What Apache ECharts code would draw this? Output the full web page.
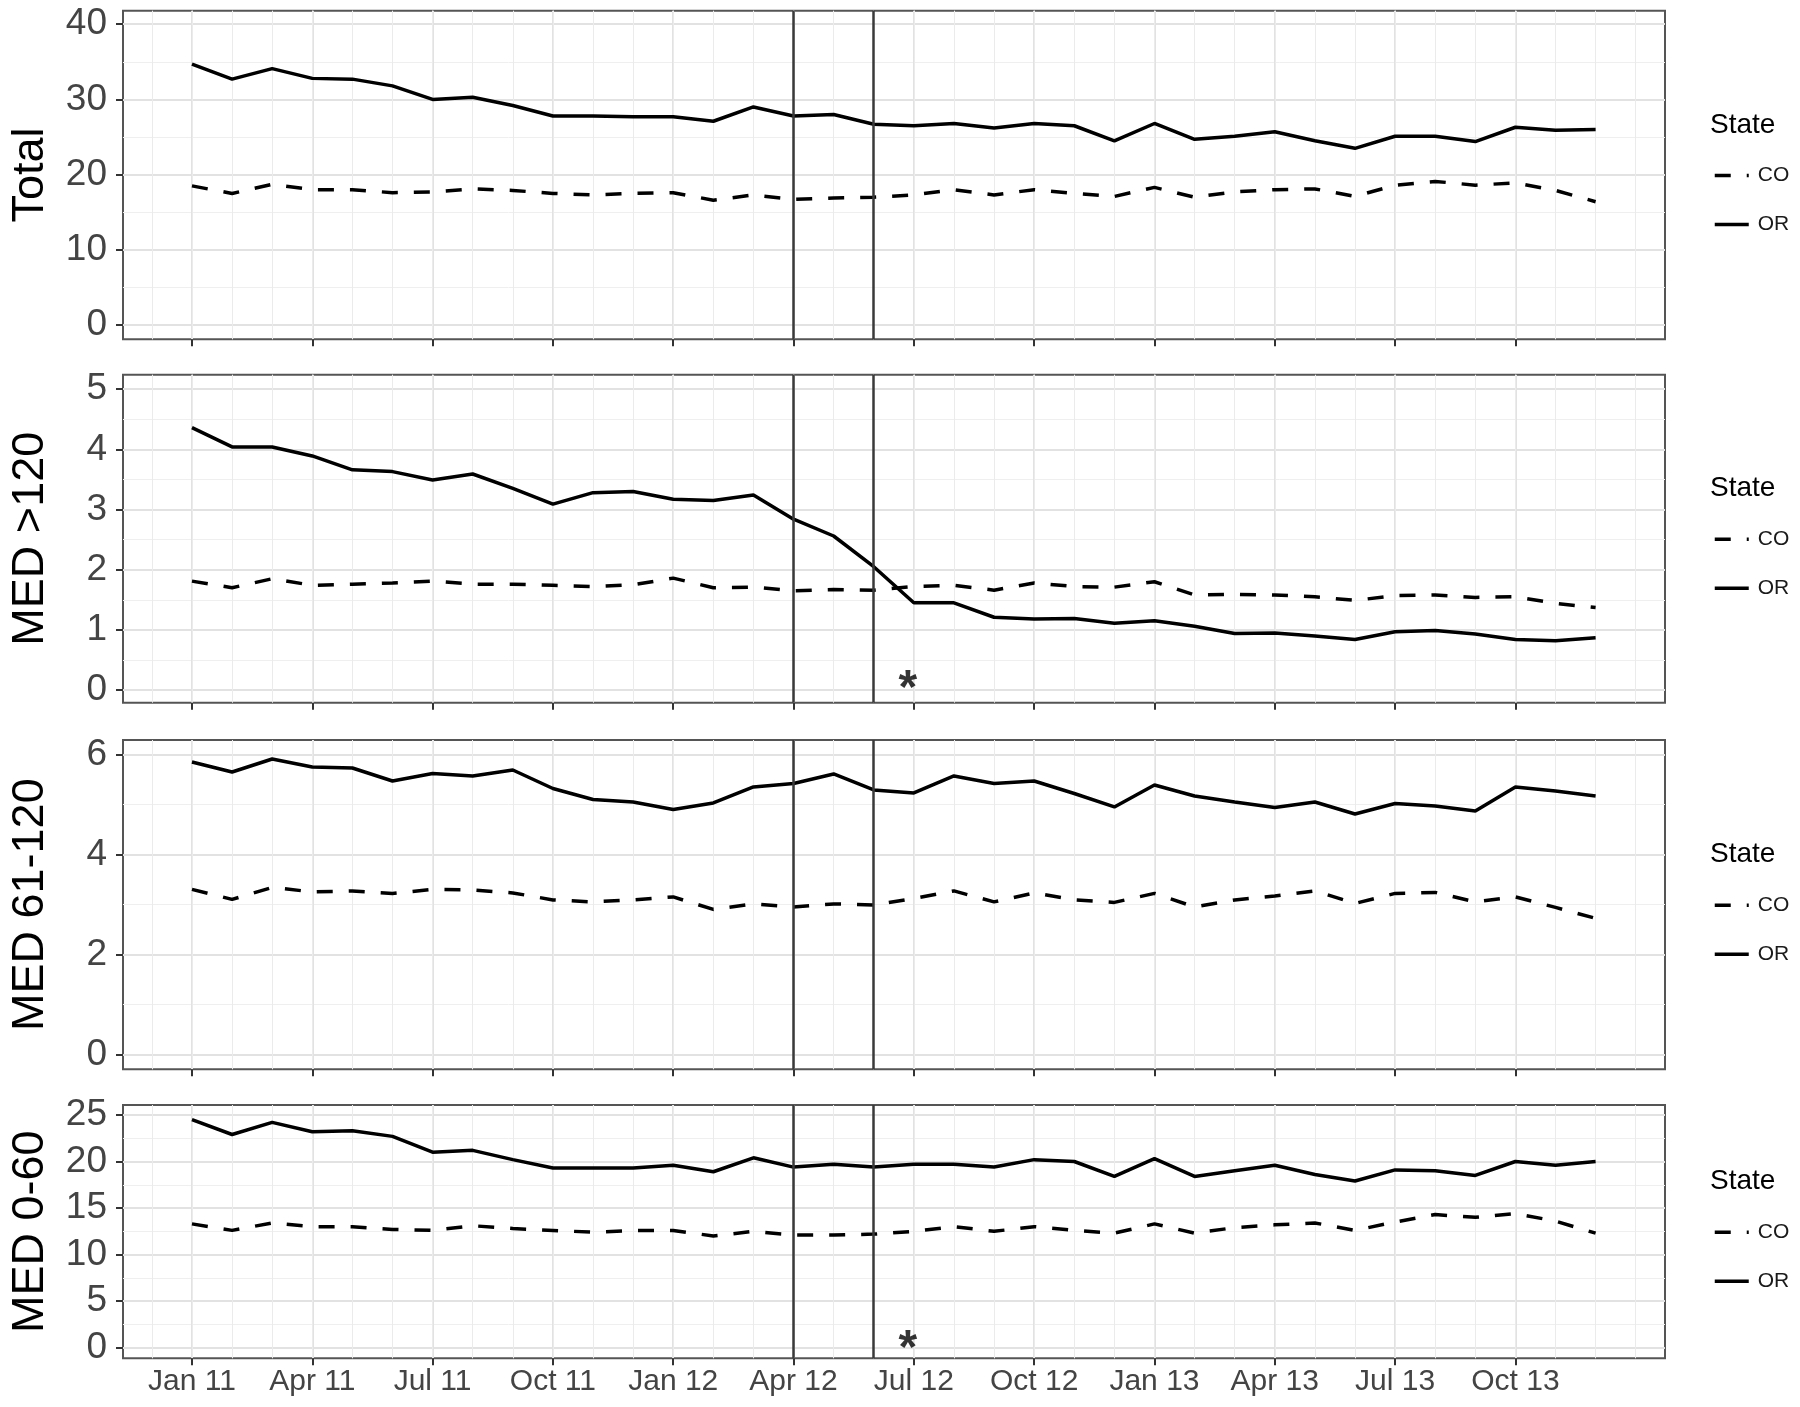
<!DOCTYPE html>
<html>
<head>
<meta charset="utf-8">
<title>MED prescribing, CO vs OR</title>
<script src="https://cdn.jsdelivr.net/npm/echarts@6.0.0/dist/echarts.min.js"></script>
<style>
    html, body { margin: 0; padding: 0; background: #fff; }
    #chart { width: 1800px; height: 1407px; }
</style>
</head>
<body>
<div id="chart"></div>
<script>
// monthly points, Jan 2011 .. Dec 2013 (x = month index 0..35)
const months = [
    'Jan 11', 'Feb 11', 'Mar 11', 'Apr 11', 'May 11', 'Jun 11', 'Jul 11', 'Aug 11', 'Sep 11', 'Oct 11', 'Nov 11', 'Dec 11',
    'Jan 12', 'Feb 12', 'Mar 12', 'Apr 12', 'May 12', 'Jun 12', 'Jul 12', 'Aug 12', 'Sep 12', 'Oct 12', 'Nov 12', 'Dec 12',
    'Jan 13', 'Feb 13', 'Mar 13', 'Apr 13', 'May 13', 'Jun 13', 'Jul 13', 'Aug 13', 'Sep 13', 'Oct 13', 'Nov 13', 'Dec 13'
]
const tickMonths = [0, 3, 6, 9, 12, 15, 18, 21, 24, 27, 30, 33]
const tickLabels = ['Jan 11', 'Apr 11', 'Jul 11', 'Oct 11', 'Jan 12', 'Apr 12', 'Jul 12', 'Oct 12', 'Jan 13', 'Apr 13', 'Jul 13', 'Oct 13']

// vertical reference lines (Apr 12, Jun 12)
const policyMonths = [15, 17]

const totalCO = [18.5, 17.5, 18.7, 18.0, 18.0, 17.6, 17.7, 18.1, 17.9, 17.5, 17.3, 17.5, 17.6, 16.6, 17.3, 16.7, 16.9, 17.0, 17.3, 18.0, 17.3, 18.0, 17.5, 17.1, 18.3, 17.0, 17.7, 18.0, 18.1, 17.1, 18.6, 19.1, 18.6, 18.9, 17.9, 16.4]
const totalOR = [34.7, 32.7, 34.1, 32.8, 32.7, 31.8, 30.0, 30.3, 29.2, 27.8, 27.8, 27.7, 27.7, 27.1, 29.0, 27.8, 28.0, 26.7, 26.5, 26.8, 26.2, 26.8, 26.5, 24.5, 26.8, 24.7, 25.1, 25.7, 24.5, 23.5, 25.1, 25.1, 24.4, 26.3, 25.9, 26.0]

const med120CO = [1.81, 1.70, 1.85, 1.74, 1.76, 1.78, 1.81, 1.76, 1.76, 1.74, 1.72, 1.75, 1.86, 1.70, 1.71, 1.65, 1.67, 1.66, 1.72, 1.74, 1.66, 1.78, 1.72, 1.71, 1.80, 1.58, 1.59, 1.58, 1.55, 1.49, 1.57, 1.58, 1.54, 1.55, 1.44, 1.37]
const med120OR = [4.36, 4.04, 4.04, 3.89, 3.66, 3.63, 3.49, 3.59, 3.35, 3.09, 3.28, 3.30, 3.17, 3.15, 3.24, 2.84, 2.56, 2.05, 1.45, 1.45, 1.21, 1.18, 1.19, 1.11, 1.15, 1.06, 0.94, 0.95, 0.90, 0.84, 0.97, 0.99, 0.93, 0.84, 0.82, 0.87]

const med61CO = [3.30, 3.10, 3.34, 3.25, 3.27, 3.22, 3.30, 3.29, 3.23, 3.09, 3.05, 3.09, 3.15, 2.90, 3.01, 2.95, 3.01, 2.99, 3.12, 3.27, 3.05, 3.23, 3.09, 3.04, 3.22, 2.95, 3.09, 3.17, 3.27, 3.02, 3.22, 3.24, 3.05, 3.15, 2.94, 2.72]
const med61OR = [5.85, 5.65, 5.91, 5.75, 5.73, 5.47, 5.62, 5.57, 5.69, 5.32, 5.10, 5.05, 4.90, 5.03, 5.35, 5.42, 5.61, 5.29, 5.23, 5.57, 5.42, 5.47, 5.22, 4.95, 5.39, 5.17, 5.05, 4.94, 5.05, 4.81, 5.02, 4.97, 4.87, 5.35, 5.27, 5.17]

const med0CO = [13.3, 12.6, 13.4, 13.0, 13.0, 12.7, 12.6, 13.1, 12.8, 12.6, 12.4, 12.6, 12.6, 12.0, 12.5, 12.1, 12.1, 12.2, 12.5, 13.0, 12.5, 13.0, 12.6, 12.3, 13.3, 12.3, 12.9, 13.2, 13.4, 12.6, 13.5, 14.3, 14.0, 14.4, 13.6, 12.3]
const med0OR = [24.5, 22.9, 24.2, 23.2, 23.3, 22.7, 21.0, 21.2, 20.2, 19.3, 19.3, 19.3, 19.6, 18.9, 20.4, 19.4, 19.7, 19.4, 19.7, 19.7, 19.4, 20.2, 20.0, 18.4, 20.3, 18.4, 19.0, 19.6, 18.6, 17.9, 19.1, 19.0, 18.5, 20.0, 19.6, 20.0]

// significance markers: [month, y]
const markerMED120 = [[18, 0.2]]
const markerMED0 = [[18, 1.1]]

const FONT = '"Liberation Sans", Arial, sans-serif'
const X_MIN = -1.72
const X_MAX = 36.73

const panels = [
    { name: 'Total', co: totalCO, or: totalOR, min: -1.9, max: 41.8, major: [0, 10, 20, 30, 40], minor: [5, 15, 25, 35], top: 10.7, height: 328.6, marker: null },
    { name: 'MED >120', co: med120CO, or: med120OR, min: -0.21, max: 5.24, major: [0, 1, 2, 3, 4, 5], minor: [0.5, 1.5, 2.5, 3.5, 4.5], top: 374.7, height: 328, marker: markerMED120 },
    { name: 'MED 61-120', co: med61CO, or: med61OR, min: -0.30, max: 6.29, major: [0, 2, 4, 6], minor: [1, 3, 5], top: 740, height: 329.3, marker: null },
    { name: 'MED 0-60', co: med0CO, or: med0OR, min: -1.14, max: 26.07, major: [0, 5, 10, 15, 20, 25], minor: [2.5, 7.5, 12.5, 17.5, 22.5], top: 1105, height: 253.3, marker: markerMED0 }
]

const gridMonths = []
for (let m = -1; m <= 36; m++) gridMonths.push(m)

const toPoints = values => values.map((v, i) => [i, v])

const grids = []
const xAxes = []
const yAxes = []
const series = []
const legends = []
const titles = []

panels.forEach((p, i) => {
    const last = i === panels.length - 1
    const center = p.top + p.height / 2

    grids.push({
        left: 115, width: 1550, top: p.top, height: p.height,
        show: true, borderColor: '#555', borderWidth: 2, backgroundColor: 'transparent'
    })

    // quarterly ticks / labels
    xAxes.push({
        type: 'value', gridIndex: i, min: X_MIN, max: X_MAX, position: 'bottom',
        axisLine: { show: false, onZero: false },
        axisTick: { show: true, customValues: tickMonths, length: 7, lineStyle: { color: '#333', width: 2 } },
        axisLabel: {
            show: last, customValues: tickMonths,
            formatter: v => tickLabels[tickMonths.indexOf(v)] || '',
            fontSize: 30, color: '#444', margin: 8, fontFamily: FONT
        },
        splitLine: { show: true, lineStyle: { color: '#e2e2e2', width: 2 } }
    })
    // monthly grid lines
    xAxes.push({
        type: 'value', gridIndex: i, min: X_MIN, max: X_MAX,
        axisLine: { show: false, onZero: false },
        axisTick: { show: false, customValues: gridMonths },
        axisLabel: { show: false },
        splitLine: { show: true, lineStyle: { color: '#ebebeb', width: 1 } }
    })

    yAxes.push({
        type: 'value', gridIndex: i, min: p.min, max: p.max, position: 'left',
        name: p.name, nameLocation: 'middle', nameRotate: 90, nameGap: 70,
        nameTextStyle: { fontSize: 45, color: '#000', fontFamily: FONT },
        axisLine: { show: false, onZero: false },
        axisTick: { show: true, customValues: p.major, length: 7, lineStyle: { color: '#333', width: 2 } },
        axisLabel: { customValues: p.major, fontSize: 37, color: '#444', margin: 16, fontFamily: FONT },
        splitLine: { show: true, lineStyle: { color: '#e2e2e2', width: 2 } }
    })
    yAxes.push({
        type: 'value', gridIndex: i, min: p.min, max: p.max,
        axisLine: { show: false, onZero: false },
        axisTick: { show: false, customValues: p.minor },
        axisLabel: { show: false },
        splitLine: { show: true, lineStyle: { color: '#efefef', width: 1 } }
    })

    series.push({
        name: 'CO', type: 'line', xAxisIndex: 2 * i, yAxisIndex: 2 * i,
        data: toPoints(p.co), symbol: 'none', z: 3,
        itemStyle: { color: '#000' },
        lineStyle: { color: '#000', width: 3.5, type: [16, 16] }
    })
    series.push({
        name: 'OR', type: 'line', xAxisIndex: 2 * i, yAxisIndex: 2 * i,
        data: toPoints(p.or), symbol: 'none', z: 3,
        itemStyle: { color: '#000' },
        lineStyle: { color: '#000', width: 3.5, type: 'solid' },
        markLine: {
            silent: true, symbol: 'none', label: { show: false },
            lineStyle: { color: '#3a3a3a', width: 2.5, type: 'solid' },
            data: policyMonths.map(m => ({ xAxis: m }))
        }
    })
    if (p.marker) {
        series.push({
            name: 'sig', type: 'scatter', xAxisIndex: 2 * i, yAxisIndex: 2 * i,
            data: p.marker, symbolSize: 1, itemStyle: { color: 'rgba(0,0,0,0)' },
            label: { show: true, position: 'inside', formatter: '*', fontSize: 48, fontWeight: 'bold', color: '#000', offset: [-6, 12], fontFamily: FONT }
        })
    }

    titles.push({
        text: 'State', left: 1710, top: center - 64, padding: 0,
        textStyle: { fontSize: 28, fontWeight: 'normal', color: '#000', fontFamily: FONT }
    })
    legends.push({
        data: ['CO', 'OR'], orient: 'vertical', left: 1713, top: center - 10, padding: 0,
        itemWidth: 34, itemHeight: 14, itemGap: 28, selectedMode: false,
        itemStyle: { opacity: 0 },
        lineStyle: { color: '#000', width: 3.5 },
        textStyle: { fontSize: 21, color: '#1a1a1a', fontFamily: FONT, padding: [0, 0, 0, 4] }
    })
})

const chart = echarts.init(document.getElementById('chart'), null, { renderer: 'canvas' })
chart.setOption({
    animation: false,
    backgroundColor: '#fff',
    title: titles,
    legend: legends,
    grid: grids,
    xAxis: xAxes,
    yAxis: yAxes,
    series
})
</script>
</body>
</html>
